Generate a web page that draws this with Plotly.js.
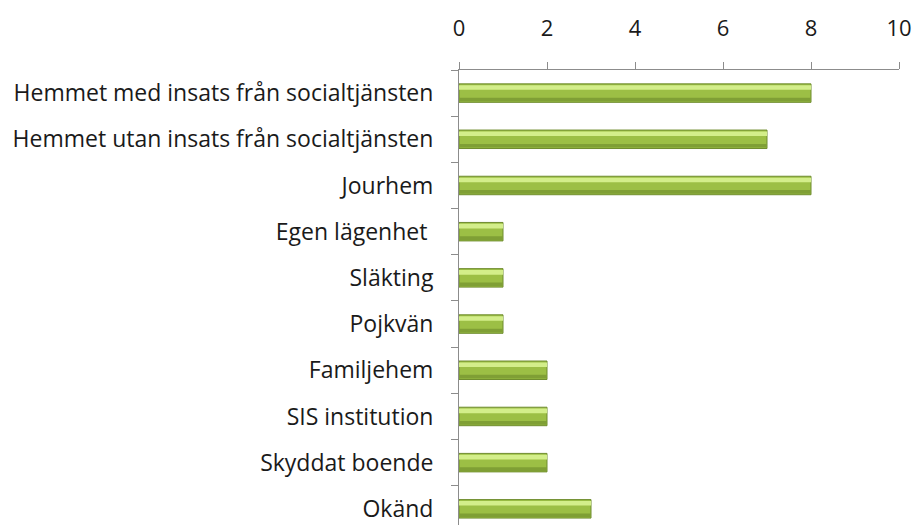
<!DOCTYPE html>
<html>
<head>
<meta charset="utf-8">
<script src="https://cdn.plot.ly/plotly-3.0.1.min.js"></script>
<style>html,body{margin:0;padding:0;background:#fff;}#chart{width:916px;height:525px;}</style>
</head>
<body>
<div id="chart"></div>
<script>
const categories = [
  "Hemmet med insats från socialtjänsten",
  "Hemmet utan insats från socialtjänsten",
  "Jourhem",
  "Egen lägenhet\u00a0",
  "Släkting",
  "Pojkvän",
  "Familjehem",
  "SIS institution",
  "Skyddat boende",
  "Okänd"
];
const values = [8, 7, 8, 1, 1, 1, 2, 2, 2, 3];
const xTicks = [0, 2, 4, 6, 8, 10];

const base = {
  type: "bar", orientation: "h", x: values, y: categories,
  width: 0.4, offset: -0.2,
  marker: {color: "#9cbf45", line: {color: "#6f8c2e", width: 1}},
  hoverinfo: "x+y"
};
const highlight = {
  type: "bar", orientation: "h", x: values, y: categories,
  width: 0.1, offset: -0.17,
  marker: {color: "#d3ee8a", line: {width: 0}},
  hoverinfo: "skip"
};
const shade = {
  type: "bar", orientation: "h", x: values, y: categories,
  width: 0.08, offset: 0.1,
  marker: {color: "#7f9f35", line: {width: 0}},
  hoverinfo: "skip"
};

const layout = {
  width: 916, height: 525,
  margin: {l: 459, r: 17, t: 70, b: 0, pad: 0},
  paper_bgcolor: "#ffffff", plot_bgcolor: "#ffffff",
  showlegend: false,
  barmode: "overlay",
  font: {family: "'Open Sans', sans-serif", size: 23, color: "#1a1a1a"},
  xaxis: {
    side: "top", range: [0, 10], tickvals: xTicks, ticktext: xTicks.map(String),
    showgrid: false, zeroline: false, showline: true, linecolor: "#8c8c8c", linewidth: 1,
    ticks: "outside", ticklen: 7, tickcolor: "#8c8c8c", ticklabelstandoff: 17,
    tickfont: {size: 22, color: "#1a1a1a"}, fixedrange: true
  },
  yaxis: {
    type: "category", categoryorder: "array", categoryarray: categories,
    range: [9.35, -0.5], showgrid: false, zeroline: false,
    showline: true, linecolor: "#8c8c8c", linewidth: 1,
    ticks: "outside", ticklen: 7, tickcolor: "#8c8c8c", tickson: "boundaries",
    ticklabelstandoff: 20,
    tickfont: {size: 23, color: "#1a1a1a"}, fixedrange: true
  }
};
Plotly.newPlot("chart", [base, highlight, shade], layout, {displayModeBar: false, staticPlot: true});
</script>
</body>
</html>
